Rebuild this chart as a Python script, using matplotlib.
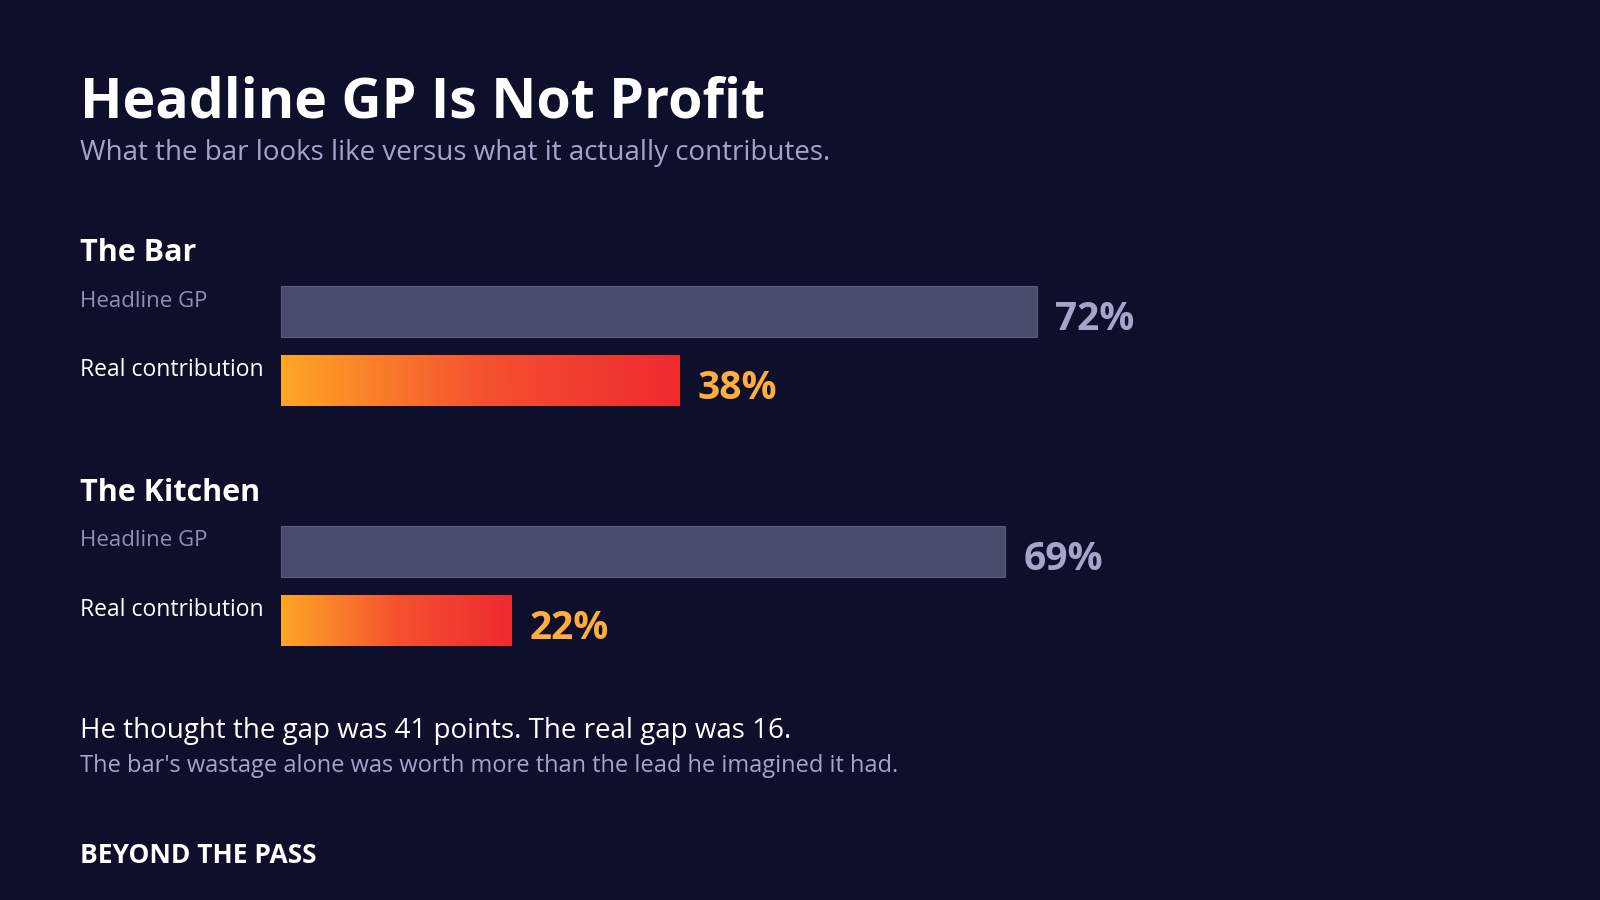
import numpy as np
import matplotlib.pyplot as plt

plt.rcParams['font.family'] = ['Open Sans', 'DejaVu Sans']

groups = ['The Bar', 'The Kitchen']
headline_gp = [72, 69]
real_contribution = [38, 22]
row_labels = ['Headline GP', 'Real contribution']

BG = '#0d0f2b'
W, H = 1568, 882
PX_PER_PCT = 10.29  # bar length in pixels for one percent


# draws a bar filled with an orange to red gradient
def gradient_bar(ax, y, value):
    bars = ax.barh([y], [value * PX_PER_PCT], left=275, height=50, color='none', edgecolor='none')
    patch = bars[0]
    grad = np.linspace(0, 1, 256).reshape(1, -1)
    cmap = plt.matplotlib.colors.LinearSegmentedColormap.from_list('heat', ['#ffa726', '#f5522f', '#ee2a2f'])
    img = ax.imshow(grad, cmap=cmap, aspect='auto',
                    extent=[275, 275 + value * PX_PER_PCT, y + 25, y - 25], zorder=2)
    img.set_clip_path(patch)


def main():
    fig = plt.figure(figsize=(16, 9), dpi=100, facecolor=BG)
    ax = fig.add_axes([0, 0, 1, 1])
    ax.set_facecolor(BG)
    ax.set_xlim(0, W)
    ax.set_ylim(H, 0)
    ax.axis('off')

    ax.text(78, 101, 'Headline GP Is Not Profit', color='white', fontsize=40, fontweight='bold', va='center')
    ax.text(78, 150, 'What the bar looks like versus what it actually contributes.',
            color='#a3a6c9', fontsize=20, va='center')

    tops = [248, 483]  # group heading positions
    for i, name in enumerate(groups):
        top = tops[i]
        ax.text(78, top, name, color='white', fontsize=22, fontweight='bold', va='center')
        y1 = top + 57
        y2 = top + 125
        ax.barh([y1], [headline_gp[i] * PX_PER_PCT], left=275, height=50, color='#484c6a',
                edgecolor='#5a5e7e', linewidth=0.8, zorder=2)
        ax.text(78, y1 - 10, row_labels[0], color='#8e91b2', fontsize=16, va='center')
        ax.text(275 + headline_gp[i] * PX_PER_PCT + 18, y1 + 8, f'{headline_gp[i]}%',
                color='#a3a6c9', fontsize=28, fontweight='bold', va='center')
        gradient_bar(ax, y2, real_contribution[i])
        ax.text(78, y2 - 10, row_labels[1], color='white', fontsize=16.5, va='center')
        ax.text(275 + real_contribution[i] * PX_PER_PCT + 18, y2 + 8, f'{real_contribution[i]}%',
                color='#ffae3d', fontsize=28, fontweight='bold', va='center')

    ax.text(78, 716, 'He thought the gap was 41 points. The real gap was 16.', color='white', fontsize=20, va='center')
    ax.text(78, 751, "The bar's wastage alone was worth more than the lead he imagined it had.",
            color='#a3a6c9', fontsize=17, va='center')
    ax.text(78, 838, 'BEYOND THE PASS', color='white', fontsize=19, fontweight='bold', va='center')

    fig.savefig('out.png', dpi=100, facecolor=BG)


if __name__ == '__main__':
    main()
